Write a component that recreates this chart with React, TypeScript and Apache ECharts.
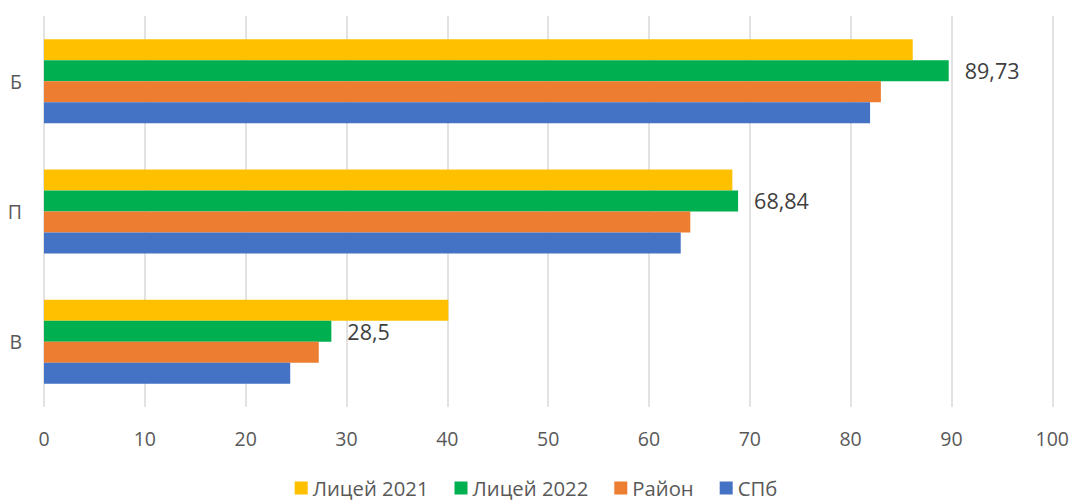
import React, { useEffect, useRef } from "react";
import * as echarts from "echarts";

const categories = ["В", "П", "Б"];
const xTicks = [0, 100, 10];
const lyceum2021 = [40.1, 68.27, 86.16];
const lyceum2022 = [28.5, 68.84, 89.73];
const district = [27.25, 64.1, 83.0];
const spb = [24.42, 63.15, 81.93];

const FONT = "'Open Sans', 'Noto Sans', sans-serif";

export default function App() {
  const ref = useRef<HTMLDivElement>(null);
  useEffect(() => {
    if (!ref.current) return;
    const chart = echarts.init(ref.current, null, { renderer: "svg" });
    const label = {
      show: true,
      position: "right",
      distance: 16,
      color: "#404040",
      fontSize: 21.5,
      fontFamily: FONT,
      formatter: (p: any) => String(p.value).replace(".", ","),
    };
    chart.setOption({
      animation: false,
      textStyle: { fontFamily: FONT },
      grid: { left: 44, right: 19, top: 16, bottom: 94 },
      legend: {
        data: ["Лицей 2021", "Лицей 2022", "Район", "СПб"],
        bottom: -2,
        left: "center",
        itemWidth: 13,
        itemHeight: 13,
        itemGap: 26,
        icon: "rect",
        textStyle: { fontSize: 20.3, color: "#595959", fontFamily: FONT },
      },
      xAxis: {
        type: "value",
        min: xTicks[0],
        max: xTicks[1],
        interval: xTicks[2],
        axisLine: { show: false },
        axisTick: { show: false },
        axisLabel: { color: "#595959", fontSize: 19.5, margin: 21, fontFamily: FONT },
        splitLine: { lineStyle: { color: "#D9D9D9", width: 1.5 } },
      },
      yAxis: {
        type: "category",
        data: categories,
        axisLine: { show: false },
        axisTick: { show: false },
        axisLabel: { color: "#595959", fontSize: 19.5, margin: 22, fontFamily: FONT },
      },
      series: [
        { name: "Лицей 2021", type: "bar", data: lyceum2021, itemStyle: { color: "#FFC000" }, barGap: "0%", barCategoryGap: "35.5%" },
        { name: "Лицей 2022", type: "bar", data: lyceum2022, itemStyle: { color: "#00B050" }, label },
        { name: "Район", type: "bar", data: district, itemStyle: { color: "#ED7D31" } },
        { name: "СПб", type: "bar", data: spb, itemStyle: { color: "#4472C4" } },
      ],
    });
    return () => chart.dispose();
  }, []);
  return <div ref={ref} style={{ width: 1072, height: 501, position: "absolute", left: 0, top: 0 }} />;
}
